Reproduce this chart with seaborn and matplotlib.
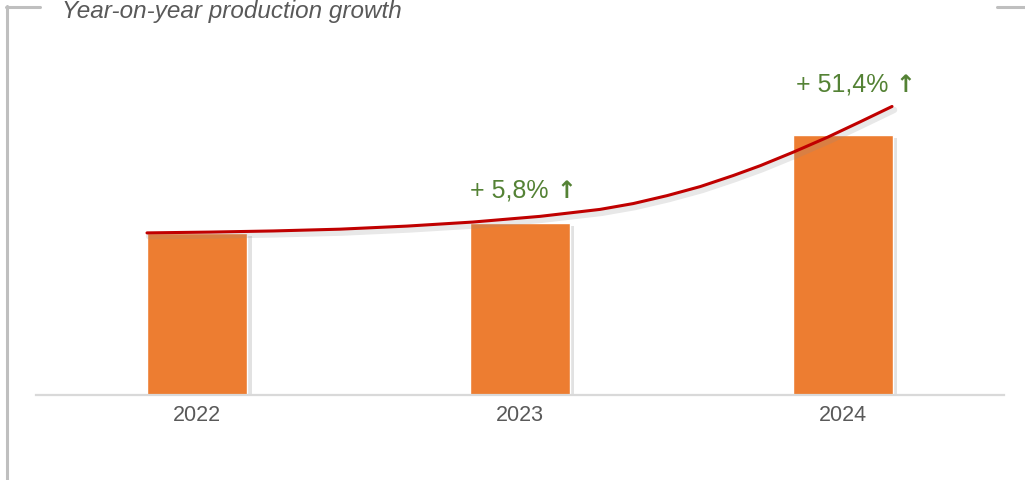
import matplotlib
matplotlib.use("Agg")
import matplotlib.pyplot as plt
import matplotlib.patheffects as pe
from matplotlib.lines import Line2D
import seaborn as sns


YEARS = ["2022", "2023", "2024"]
PRODUCTION = [100.0, 105.8, 160.2]
GROWTH_LABELS = ["+ 5,8%", "+ 51,4%"]

# smooth trend line (x in category units)
TREND_X = [-0.156, 0.039, 0.235, 0.442, 0.650, 0.854, 1.062, 1.248, 1.351, 1.456,
           1.559, 1.661, 1.745, 1.848, 1.954, 2.054, 2.153]
TREND_Y = [100.0, 100.5, 101.2, 102.3, 104.2, 106.7, 110.2, 114.5, 118.1, 123.0,
           128.6, 135.4, 141.5, 149.9, 159.1, 168.5, 178.0]

ORANGE = "#ED7D31"
RED = "#C00000"
GREEN = "#548235"
GREY_TEXT = "#595959"
FRAME = "#BFBFBF"

W, H, DPI = 1025, 480, 100


def main():
    sns.set_theme(style="white")
    plt.rcParams["font.family"] = ["Liberation Sans", "DejaVu Sans"]

    fig = plt.figure(figsize=(W / DPI, H / DPI), dpi=DPI)
    ax = fig.add_axes([36 / W, 1 - 395 / H, 968 / W, 355 / H])

    sns.barplot(x=YEARS, y=PRODUCTION, color=ORANGE, saturation=1, width=0.31, ax=ax)
    for bar in ax.patches:
        bar.set_path_effects([
            pe.SimplePatchShadow(offset=(3, -2), shadow_rgbFace="#8c8c8c", alpha=0.25),
            pe.Normal(),
        ])

    sns.lineplot(x=TREND_X, y=TREND_Y, color=RED, linewidth=2.2, ax=ax,
                 path_effects=[pe.SimpleLineShadow(offset=(1.5, -2.5), shadow_color="#8c8c8c",
                                                   alpha=0.2, linewidth=4.5),
                               pe.Normal()])

    # growth labels above the 2023 and 2024 bars: text + bold arrow
    label_pos = [(1, 121.6, -11, 46), (2, 187.0, 0, 63)]
    for (x, y, dx_text, dx_arrow), text in zip(label_pos, GROWTH_LABELS):
        ax.annotate(text, xy=(x, y), xytext=(dx_text * 0.72, 0), textcoords="offset points",
                    color=GREEN, fontsize=18, ha="center", va="baseline")
        ax.annotate("\u2191", xy=(x, y), xytext=(dx_arrow * 0.72, 0), textcoords="offset points",
                    color=GREEN, fontsize=17, fontweight="bold", family="DejaVu Sans",
                    ha="center", va="baseline")

    ax.set_xlim(-0.5, 2.5)
    ax.set_ylim(0, 219)
    ax.set_yticks([])
    ax.set_xlabel("")
    ax.set_ylabel("")
    ax.tick_params(axis="x", length=0, pad=7, labelsize=15.5, labelcolor=GREY_TEXT)
    for side in ["left", "top", "right"]:
        ax.spines[side].set_visible(False)
    ax.spines["bottom"].set_color("#D9D9D9")
    ax.spines["bottom"].set_linewidth(1.6)

    # frame pieces around the chart
    fig.add_artist(Line2D([6.5 / W, 6.5 / W], [0, 1 - 6 / H], color=FRAME, lw=2.2,
                          transform=fig.transFigure))
    fig.add_artist(Line2D([5.5 / W, 40 / W], [1 - 6.5 / H, 1 - 6.5 / H], color=FRAME, lw=2.2,
                          transform=fig.transFigure))
    fig.add_artist(Line2D([997 / W, 1], [1 - 6.5 / H, 1 - 6.5 / H], color=FRAME, lw=2.2,
                          transform=fig.transFigure))

    fig.text(62 / W, 1 - 18 / H, "Year-on-year production growth", color=GREY_TEXT,
             fontsize=17.5, style="italic", ha="left", va="baseline")

    fig.savefig("out.png", dpi=DPI)
    plt.close(fig)


if __name__ == "__main__":
    main()
